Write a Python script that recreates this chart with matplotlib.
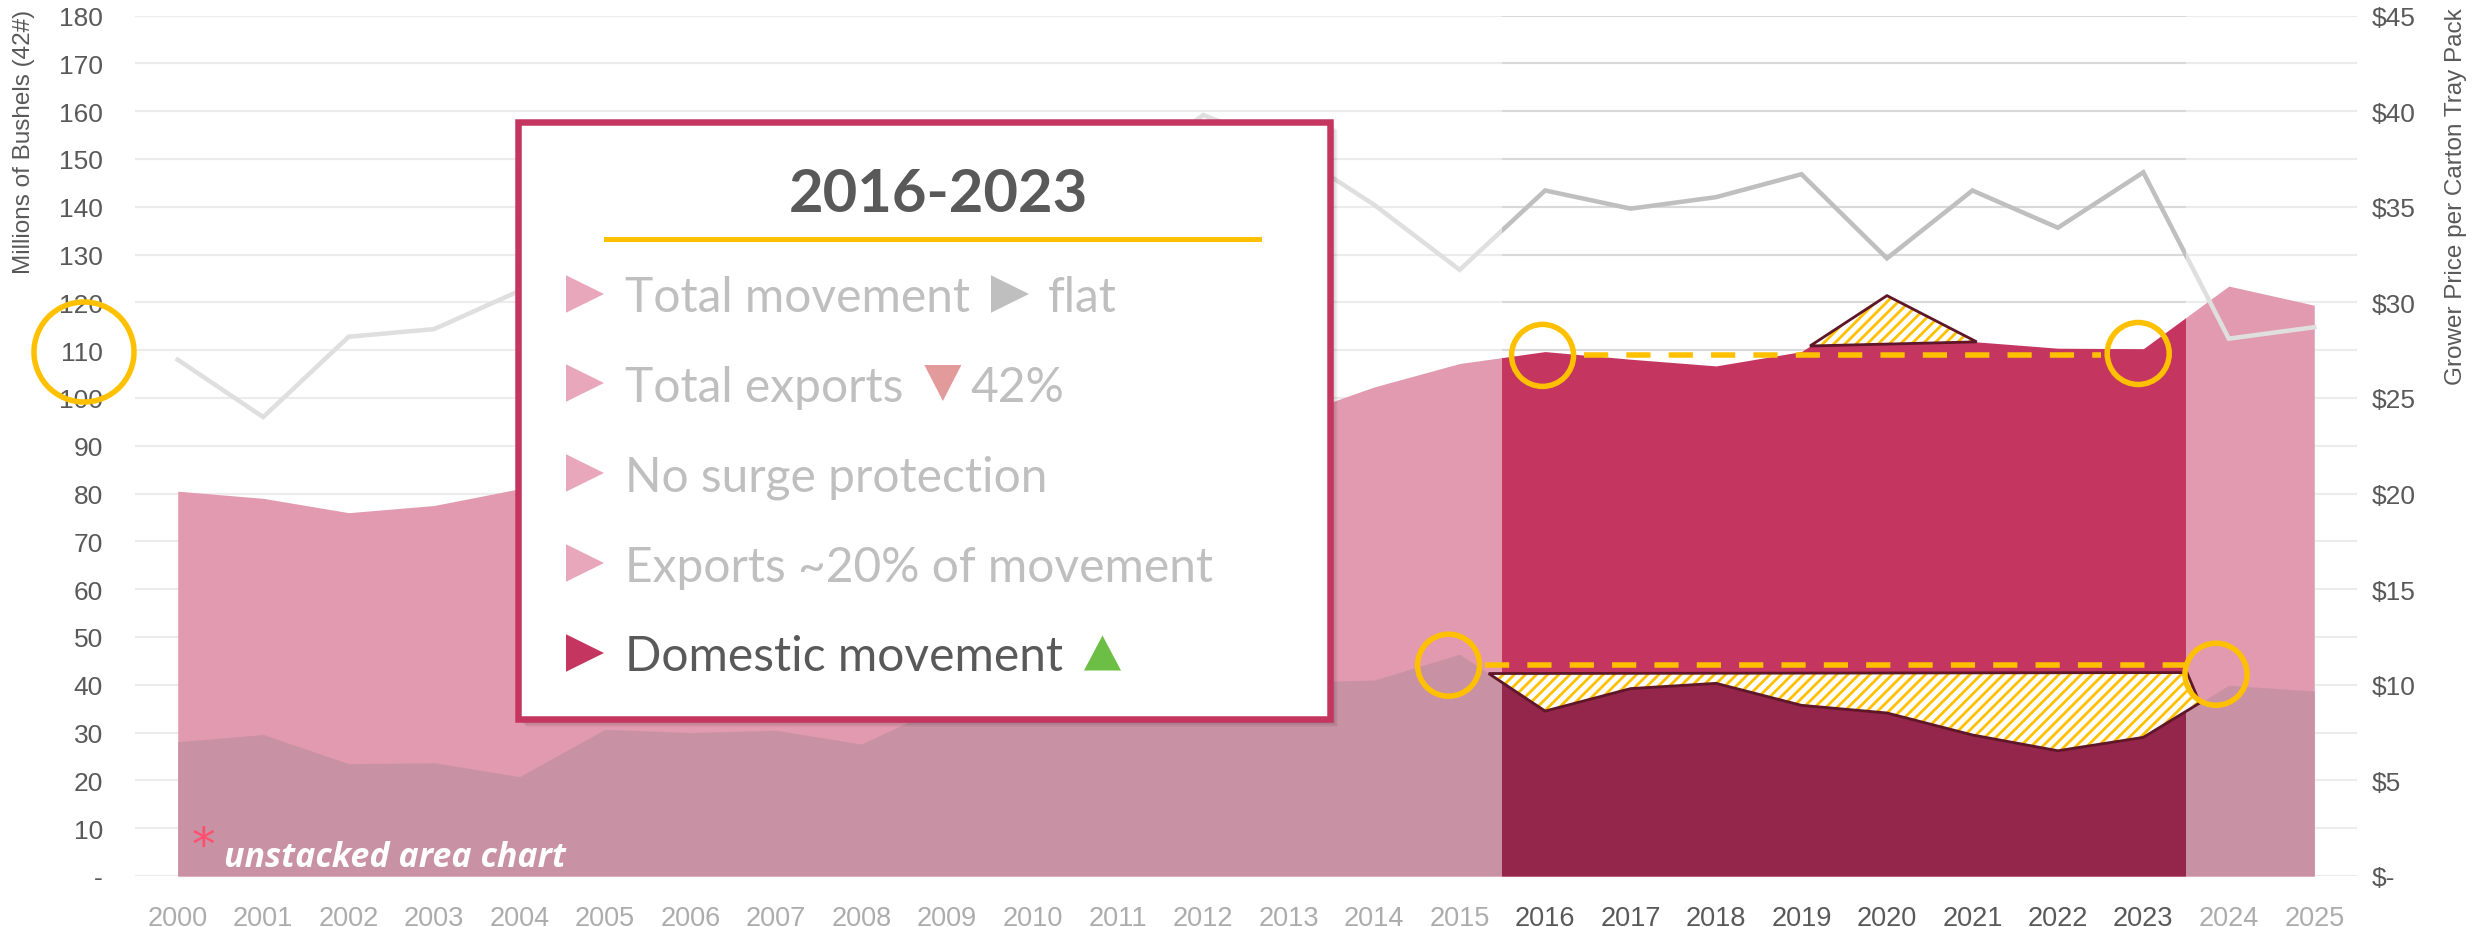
import numpy as np
import matplotlib
matplotlib.use('Agg')
import matplotlib.pyplot as plt
from matplotlib.patches import Rectangle, Polygon, Ellipse

## Data (millions of 42# bushels, grower price $ per carton tray pack)
years = np.arange(2000, 2026)
total_movement = [80.5, 79.0, 76.0, 77.5, 81.0, 86.0, 88.0, 90.0, 93.0, 95.0,
                  97.0, 96.0, 98.0, 96.0, 102.3, 107.2, 109.7, 108.1, 106.7, 109.7,
                  121.4, 111.8, 110.4, 110.3, 123.4, 119.4]
domestic_movement = [28.1, 29.6, 23.5, 23.7, 20.8, 30.7, 30.0, 30.5, 27.6, 36.0,
                     38.0, 39.0, 41.0, 40.5, 41.0, 46.4, 34.5, 39.2, 40.3, 35.7,
                     34.1, 29.5, 26.2, 29.0, 39.9, 38.7]
grower_price = [27.0, 24.0, 28.2, 28.6, 30.6, 32.0, 30.5, 33.0, 34.0, 32.5,
                35.0, 36.5, 39.8, 38.0, 35.1, 31.7, 35.85, 34.9, 35.5, 36.7,
                32.3, 35.85, 33.9, 36.8, 28.1, 28.7]
highlight = (2016, 2023)

box_title = '2016-2023'
box_items = ['Total movement', 'Total exports', 'No surge protection',
             'Exports ~20% of movement', 'Domestic movement']

## Styling
W, H = 2484, 928
C_TOTAL = '#C43660'
C_DOM = '#93264A'
C_PRICE = '#BFBFBF'
C_GRID = '#D9D9D9'
C_TXT = '#595959'
C_GOLD = '#FFC000'
C_EDGE = '#5E1628'
plt.rcParams['hatch.linewidth'] = 2.0

def fx(x):
    return x / W

def fy(y):
    return 1 - y / H

def pt(px):
    return px * 0.72

fig = plt.figure(figsize=(W / 100, H / 100), dpi=100)
ax_l, ax_r, ax_t, ax_b = 135, 2357, 16.5, 877
ax = fig.add_axes([fx(ax_l), fy(ax_b), (ax_r - ax_l) / W, (ax_b - ax_t) / H])
ax.set_xlim(1999.5, 2025.5)
ax.set_ylim(0, 180)
ppx = (ax_r - ax_l) / 26.0     # pixels per year
ppy = (ax_b - ax_t) / 180.0    # pixels per unit

for s in ax.spines.values():
    s.set_visible(False)

# gridlines
for v in range(0, 181, 10):
    ax.plot([1999.5, 2025.5], [v, v], color=C_GRID, lw=pt(2.2), zorder=0,
            solid_capstyle='butt')

# unstacked areas
ax.fill_between(years, 0, total_movement, color=C_TOTAL, lw=0, zorder=1)
ax.fill_between(years, 0, domestic_movement, color=C_DOM, lw=0, zorder=2)

ax.set_yticks(range(0, 181, 10))
ax.set_yticklabels(['-' if v == 0 else str(v) for v in range(0, 181, 10)])
ax.set_xticks(years)
ax.set_xticklabels([str(y) for y in years])
ax.tick_params(axis='y', length=0, pad=pt(32), labelsize=19, labelcolor=C_TXT)
ax.tick_params(axis='x', length=0, pad=pt(29), labelsize=19.5, labelcolor=C_TXT)
for lab in ax.get_xticklabels() + ax.get_yticklabels():
    lab.set_fontfamily('Liberation Sans')

# price on right axis
ax2 = ax.twinx()
ax2.set_ylim(0, 45)
for s in ax2.spines.values():
    s.set_visible(False)
ax2.set_yticks(range(0, 46, 5))
ax2.set_yticklabels(['$-' if v == 0 else '$%d' % v for v in range(0, 46, 5)])
ax2.tick_params(axis='y', length=0, pad=pt(15), labelsize=19, labelcolor=C_TXT)
for lab in ax2.get_yticklabels():
    lab.set_fontfamily('Liberation Sans')
ax2.plot(years, grower_price, color=C_PRICE, lw=pt(4.5), zorder=3,
         solid_joinstyle='miter')

# fade everything outside the highlighted years
lo, hi = highlight[0] - 0.5, highlight[1] + 0.5
for x0, x1 in [(1999.5, lo), (hi, 2025.5)]:
    ax2.add_patch(Rectangle((x0, -13), x1 - x0, 194, transform=ax.transData,
                            facecolor='white', alpha=0.5, lw=0, zorder=5,
                            clip_on=False))

## Annotations (hatched gaps, reference lines, circles)
flat_total, flat_dom = 108.9, 44.1
tri_x = [2019.1, 2020, 2021.05]
tri_y = np.interp(tri_x, years, total_movement)
tri_pts = list(zip(tri_x, tri_y))
sel = (years >= highlight[0]) & (years <= highlight[1])
gap_pts = [(2015.34, np.interp(2015.34, years, domestic_movement))]
gap_pts += list(zip(years[sel], np.array(domestic_movement)[sel]))
gap_pts += [(2023.66, np.interp(2023.66, years, domestic_movement)), (2023.51, 42.55)]
for pts in (tri_pts, gap_pts):
    ax2.add_patch(Polygon(pts, closed=True, facecolor='white', edgecolor=C_GOLD,
                          hatch='///', lw=0, transform=ax.transData, zorder=6))
    ax2.add_patch(Polygon(pts, closed=True, fill=False, edgecolor=C_EDGE,
                          lw=pt(2.8), transform=ax.transData, zorder=7,
                          joinstyle='miter'))

dash = dict(color=C_GOLD, lw=pt(5.5), dashes=(4.4, 3.3), transform=ax.transData,
            zorder=8, solid_capstyle='butt', dash_capstyle='butt')
ax2.plot([2016.45, 2022.5], [flat_total, flat_total], **dash)
ax2.plot([2015.3, 2023.55], [flat_dom, flat_dom], **dash)

d = 62
for cx, cy in [(2015.97, 108.9), (2022.94, 109.3), (2014.87, 44.1), (2023.85, 42.2)]:
    ax2.add_patch(Ellipse((cx, cy), d / ppx, d / ppy, fill=False, edgecolor=C_GOLD,
                          lw=pt(5.5), transform=ax.transData, zorder=9, clip_on=False))

fig.patches.append(Ellipse((fx(84), fy(353)), 100 / W, 100 / H, fill=False,
                           edgecolor=C_GOLD, lw=pt(5.5), transform=fig.transFigure,
                           zorder=2))

## Axis titles
fig.text(fx(24), fy(10), 'Millions of Bushels (42#)', rotation=90, ha='center',
         va='top', fontsize=17.5, color=C_TXT, family='Liberation Sans')
fig.text(fx(2456), fy(8), 'Grower Price per Carton Tray Pack', rotation=90,
         ha='center', va='top', fontsize=17.5, color=C_TXT, family='Liberation Sans')

## Note
fig.text(fx(203), fy(860), '*', ha='center', va='baseline', fontsize=34,
         color='#FF4F6E', family='DejaVu Sans', zorder=5)
fig.text(fx(224), fy(867), 'unstacked area chart', ha='left', va='baseline',
         fontsize=24.5, color='white', family='Open Sans', fontweight='bold',
         fontstyle='italic', zorder=5)

## Callout box
bx0, by0, bx1, by1 = 518, 123, 1330, 720
for k in range(1, 9):
    fig.patches.append(Rectangle((fx(bx0 + k), fy(by1 + k)), (bx1 - bx0) / W,
                                 (by1 - by0) / H, transform=fig.transFigure,
                                 facecolor='black', alpha=0.035, lw=0, zorder=3))
fig.patches.append(Rectangle((fx(bx0), fy(by1)), (bx1 - bx0) / W, (by1 - by0) / H,
                             transform=fig.transFigure, facecolor='white',
                             edgecolor=C_TOTAL, lw=pt(6.5), zorder=4))
fig.text(fx(938), fy(212), box_title, ha='center', va='baseline', fontsize=43,
         fontweight='bold', color=C_TXT, family='Lato', zorder=6)
fig.lines.append(plt.Line2D([fx(606), fx(1259)], [fy(240), fy(240)], color=C_GOLD,
                            lw=pt(5), transform=fig.transFigure, zorder=6))

def tri(cx, cy, w, h, kind, color):
    if kind == 'right':
        v = [(cx - w / 2, cy - h / 2), (cx + w / 2, cy), (cx - w / 2, cy + h / 2)]
    elif kind == 'down':
        v = [(cx - w / 2, cy - h / 2), (cx + w / 2, cy - h / 2), (cx, cy + h / 2)]
    else:
        v = [(cx - w / 2, cy + h / 2), (cx + w / 2, cy + h / 2), (cx, cy - h / 2)]
    fig.patches.append(Polygon([(fx(a), fy(b)) for a, b in v], closed=True,
                               transform=fig.transFigure, facecolor=color,
                               lw=0, zorder=6))

item_y = [295, 384, 474, 564, 654]
item_txt = []
for i, (lab, cy) in enumerate(zip(box_items, item_y)):
    last = i == len(box_items) - 1
    tri(585, cy, 38, 37.5, 'right', C_TOTAL if last else '#E8A7BB')
    t = fig.text(fx(625), fy(cy + 17.5), lab, ha='left', va='baseline', fontsize=34.5,
                 color=C_TXT if last else '#BFBFBF', family='Lato', zorder=6)
    item_txt.append(t)

r = fig.canvas.get_renderer()
end = [t.get_window_extent(r).x1 for t in item_txt]
# Total movement > flat
tri(end[0] + 21 + 19, item_y[0], 38, 37.5, 'right', C_PRICE)
fig.text(fx(end[0] + 21 + 38 + 19), fy(item_y[0] + 17.5), 'flat', ha='left',
         va='baseline', fontsize=34.5, color='#BFBFBF', family='Lato', zorder=6)
# Total exports down 42%
tri(end[1] + 21 + 18.5, item_y[1], 37, 36, 'down', '#E39A9A')
fig.text(fx(end[1] + 21 + 37 + 9), fy(item_y[1] + 17.5), '42%', ha='left',
         va='baseline', fontsize=34.5, color='#BFBFBF', family='Lato', zorder=6)
# Domestic movement up
tri(end[4] + 21 + 18.5, item_y[4], 37, 35, 'up', '#6CBF44')

fig.savefig('out.png', dpi=100)
